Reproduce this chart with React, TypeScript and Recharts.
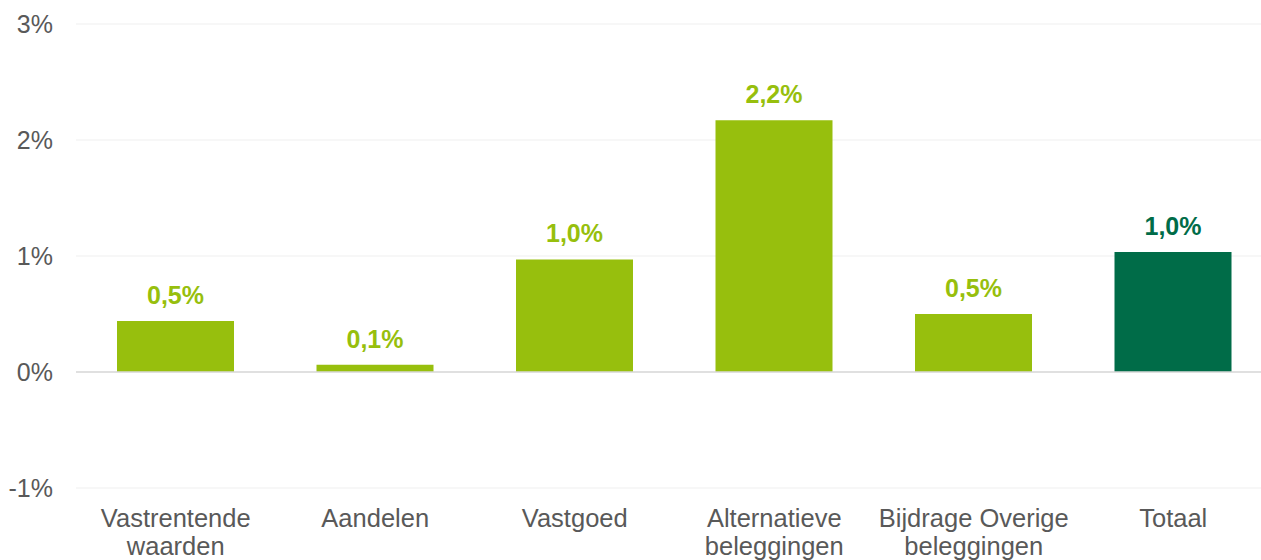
import React from "react";
import { BarChart, Bar, XAxis, YAxis, CartesianGrid, ReferenceLine, LabelList, Cell } from "recharts";

const categories = ["Vastrentende waarden", "Aandelen", "Vastgoed", "Alternatieve beleggingen", "Bijdrage Overige beleggingen", "Totaal"];
const categoryLines: string[][] = [
  ["Vastrentende", "waarden"],
  ["Aandelen"],
  ["Vastgoed"],
  ["Alternatieve", "beleggingen"],
  ["Bijdrage Overige", "beleggingen"],
  ["Totaal"],
];
const values = [0.44, 0.063, 0.97, 2.17, 0.5, 1.034];
const valueLabels = ["0,5%", "0,1%", "1,0%", "2,2%", "0,5%", "1,0%"];
const barColors = ["#97BF0D", "#97BF0D", "#97BF0D", "#97BF0D", "#97BF0D", "#006C48"];
const yTicks = [-1, 0, 1, 2, 3];

const data = categories.map((c, i) => ({ name: c, value: values[i], label: valueLabels[i], idx: i }));

const FONT = "'Liberation Sans', Arial, sans-serif";

const XTick = (props: any) => {
  const { x, y, index } = props;
  const lines = categoryLines[index] || [];
  return (
    <text x={x} y={y} textAnchor="middle" fill="#595959" fontSize={25.5} fontFamily={FONT}>
      {lines.map((l, i) => (
        <tspan key={i} x={x} y={y + 31 + i * 28}>{l}</tspan>
      ))}
    </text>
  );
};

const ValueLabel = (props: any) => {
  const { x, y, width, index } = props;
  return (
    <text
      x={x + width / 2}
      y={y - 17}
      textAnchor="middle"
      fill={barColors[index]}
      fontSize={25}
      fontWeight="bold"
      fontFamily={FONT}
    >
      {valueLabels[index]}
    </text>
  );
};

export default function App() {
  return (
    <div style={{ position: "absolute", left: 0, top: 0, width: 1261, height: 560, overflow: "hidden", background: "#fff" }}>
      <BarChart
        width={1273}
        height={560}
        data={data}
        margin={{ top: 24, right: 0, left: 0, bottom: 0 }}
      >
        <CartesianGrid vertical={false} stroke="#EFEFEF" strokeWidth={1} />
        <XAxis
          dataKey="name"
          axisLine={false}
          tickLine={false}
          height={72}
          interval={0}
          tick={<XTick />}
        />
        <YAxis
          domain={[-1, 3]}
          ticks={yTicks}
          width={76}
          axisLine={false}
          tickLine={false}
          tickMargin={17}
          tickFormatter={(v: number) => `${v}%`}
          tick={{ fill: "#595959", fontSize: 25, fontFamily: FONT }}
        />
        <ReferenceLine y={0} stroke="#D9D9D9" strokeWidth={1.5} />
        <Bar dataKey="value" barSize={117} isAnimationActive={false}>
          {data.map((d, i) => (
            <Cell key={i} fill={barColors[i]} />
          ))}
          <LabelList dataKey="label" content={<ValueLabel />} />
        </Bar>
      </BarChart>
    </div>
  );
}
